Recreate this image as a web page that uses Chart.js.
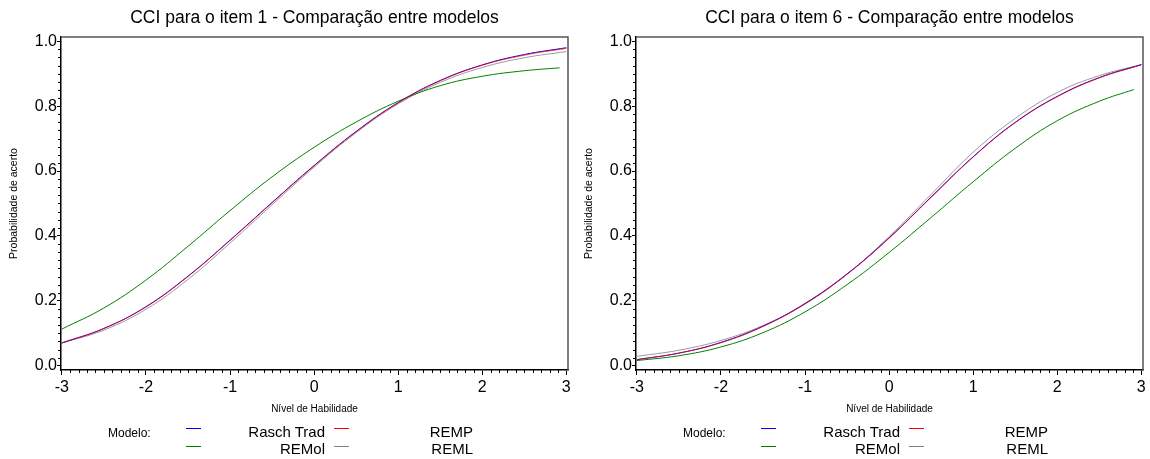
<!DOCTYPE html>
<html>
<head>
<meta charset="utf-8">
<script src="https://cdn.jsdelivr.net/npm/chart.js@4.4.1/dist/chart.umd.min.js"></script>
<style>
  body { margin: 0; background: #fff; font-family: "Liberation Sans", Arial, sans-serif; }
  #wrap { position: relative; width: 1150px; height: 459px; }
  .panel { position: absolute; top: 0; width: 575px; height: 459px; }
  .panel canvas { position: absolute; left: 0; top: 0; }
  .lg { position: absolute; white-space: nowrap; line-height: 1; color: #000; }
  .sw { position: absolute; height: 1px; width: 15px; }
</style>
</head>
<body>
<div id="wrap">
  <div class="panel" id="p1" style="left:0"><canvas id="c1" width="575" height="459"></canvas></div>
  <div class="panel" id="p2" style="left:575px"><canvas id="c2" width="575" height="459"></canvas></div>
</div>
<script>
// eixo x (nível de habilidade)
let habilidade = [-3, -2.5, -2, -1.5, -1, -0.5, 0, 0.5, 1, 1.5, 2, 2.5, 3];
let habilidadeREMolItem1 = [-3, -2.5, -2, -1.5, -1, -0.5, 0, 0.5, 1, 1.5, 2, 2.5, 2.92];
let habilidadeREMolItem6 = [-3, -2.5, -2, -1.5, -1, -0.5, 0, 0.5, 1, 1.5, 2, 2.5, 2.91];

// item 1
let item1RaschTrad = [0.070, 0.115, 0.182, 0.276, 0.387, 0.503, 0.617, 0.722, 0.811, 0.879, 0.927, 0.959, 0.980];
let item1REMP      = [0.071, 0.115, 0.181, 0.275, 0.386, 0.502, 0.616, 0.721, 0.810, 0.878, 0.926, 0.957, 0.978];
let item1REMol     = [0.113, 0.178, 0.264, 0.368, 0.478, 0.582, 0.673, 0.751, 0.815, 0.863, 0.892, 0.909, 0.918];
let item1REML      = [0.070, 0.110, 0.174, 0.266, 0.378, 0.496, 0.612, 0.718, 0.807, 0.873, 0.919, 0.949, 0.968];

// item 6
let item6RaschTrad = [0.019, 0.039, 0.072, 0.122, 0.192, 0.283, 0.394, 0.520, 0.644, 0.750, 0.830, 0.888, 0.928];
let item6REMP      = [0.019, 0.039, 0.071, 0.121, 0.191, 0.282, 0.393, 0.519, 0.643, 0.749, 0.829, 0.887, 0.927];
let item6REMol     = [0.016, 0.031, 0.058, 0.102, 0.166, 0.250, 0.349, 0.457, 0.567, 0.670, 0.755, 0.815, 0.851];
let item6REML      = [0.029, 0.048, 0.078, 0.124, 0.190, 0.282, 0.398, 0.528, 0.658, 0.762, 0.842, 0.894, 0.928];

let xTicks = [-3, -2, -1, 0, 1, 2, 3];
let yTicks = [0, 0.2, 0.4, 0.6, 0.8, 1.0];

let modelos = ["Rasch Trad", "REMP", "REMol", "REML"];
let cores = ["#0000ff", "rgba(255,0,0,0.75)", "#008000", "#9a9a9a"];
let coresLegenda = ["#0000ff", "#ff0000", "#008000", "#808080"];
let ordem = [1, 0, 2, 3];

const fonte = "'Liberation Sans', Arial, sans-serif";

function pts(xs, ys) {
  return xs.map((x, i) => ({ x: x, y: ys[i] }));
}

// título centrado na área do gráfico
const titulo = {
  id: "titulo",
  afterDraw(chart, args, opts) {
    const { ctx, chartArea: a } = chart;
    ctx.save();
    ctx.fillStyle = "#000";
    ctx.font = "17.5px " + fonte;
    ctx.textAlign = "center";
    ctx.textBaseline = "middle";
    ctx.fillText(opts.text, (a.left + a.right) / 2, 18);
    ctx.restore();
  },
};

// ticks menores + moldura de cima e da direita
const moldura = {
  id: "moldura",
  afterDraw(chart) {
    const { ctx, chartArea: a, scales } = chart;
    ctx.save();
    ctx.strokeStyle = "#000";
    ctx.lineWidth = 1;
    ctx.beginPath();
    for (let i = -30; i <= 30; i++) {
      if (i % 10 === 0) continue;
      let px = Math.round(scales.x.getPixelForValue(i / 10)) + 0.5;
      ctx.moveTo(px, a.bottom);
      ctx.lineTo(px, a.bottom + 3);
    }
    for (let i = 0; i <= 40; i++) {
      if (i % 8 === 0) continue;
      let py = Math.round(scales.y.getPixelForValue(i * 0.025)) + 0.5;
      ctx.moveTo(a.left, py);
      ctx.lineTo(a.left - 3, py);
    }
    ctx.stroke();
    ctx.strokeStyle = "#555";
    ctx.lineWidth = 1.5;
    ctx.beginPath();
    ctx.moveTo(a.left, a.top);
    ctx.lineTo(a.right, a.top);
    ctx.lineTo(a.right, a.bottom);
    ctx.stroke();
    ctx.restore();
  },
};

function desenha(id, textoTitulo, xsREMol, series) {
  let datasets = modelos.map((m, i) => ({
    label: m,
    data: pts(i === 2 ? xsREMol : habilidade, series[i]),
    borderColor: cores[i],
    borderWidth: 1,
    pointRadius: 0,
    tension: 0.4,
    order: ordem[i],
    fill: false,
  }));
  new Chart(document.getElementById(id), {
    type: "line",
    data: { datasets: datasets },
    options: {
      responsive: false,
      animation: false,
      layout: { padding: { left: 0, right: 7, top: 37, bottom: 43 } },
      plugins: {
        legend: { display: false },
        tooltip: { enabled: false },
        title: { display: false },
        titulo: { text: textoTitulo },
      },
      scales: {
        x: {
          type: "linear",
          min: -3.01,
          max: 3.02,
          afterBuildTicks: (s) => { s.ticks = xTicks.map((v) => ({ value: v })); },
          afterFit: (s) => { s.height = 46; },
          grid: { drawOnChartArea: false, tickLength: 5, color: "#000" },
          border: { color: "#000", width: 1.5 },
          ticks: {
            color: "#000",
            font: { family: fonte, size: 16 },
            padding: 3,
            maxRotation: 0,
            callback: (v) => String(v),
          },
          title: {
            display: true,
            text: "Nível de Habilidade",
            color: "#000",
            font: { family: fonte, size: 10 },
            padding: { top: 0, bottom: 1 },
          },
        },
        y: {
          type: "linear",
          min: -0.013,
          max: 1.013,
          afterBuildTicks: (s) => { s.ticks = yTicks.map((v) => ({ value: v })); },
          afterFit: (s) => { s.width = 61; },
          grid: { drawOnChartArea: false, tickLength: 4, color: "#000" },
          border: { color: "#000", width: 1.5 },
          ticks: {
            color: "#000",
            font: { family: fonte, size: 16 },
            padding: 0,
            callback: (v) => v.toFixed(1),
          },
          title: {
            display: true,
            text: "Probabilidade de acerto",
            color: "#000",
            font: { family: fonte, size: 10.5 },
            padding: { top: 8, bottom: 0 },
          },
        },
      },
    },
    plugins: [moldura, titulo],
  });
}

function legenda(panelId) {
  let p = document.getElementById(panelId);
  let add = (html) => p.insertAdjacentHTML("beforeend", html);
  add('<div class="lg" style="left:108px;top:427px;font-size:12px">Modelo:</div>');
  // [swatch x, borda direita do texto, linha]
  let lugar = [[186, 325, 0], [334, 473, 0], [186, 325, 1], [334, 473, 1]];
  modelos.forEach((m, i) => {
    let [sx, tx, row] = lugar[i];
    let ly = row === 0 ? 428 : 446;
    let ty = row === 0 ? 424 : 441;
    add('<div class="sw" style="left:' + sx + 'px;top:' + ly + 'px;background:' + coresLegenda[i] + '"></div>');
    add('<div class="lg" style="right:' + (575 - tx) + 'px;top:' + ty + 'px;font-size:15px">' + m + '</div>');
  });
}

desenha("c1", "CCI para o item 1 - Comparação entre modelos", habilidadeREMolItem1,
  [item1RaschTrad, item1REMP, item1REMol, item1REML]);
desenha("c2", "CCI para o item 6 - Comparação entre modelos", habilidadeREMolItem6,
  [item6RaschTrad, item6REMP, item6REMol, item6REML]);
legenda("p1");
legenda("p2");
</script>
</body>
</html>
